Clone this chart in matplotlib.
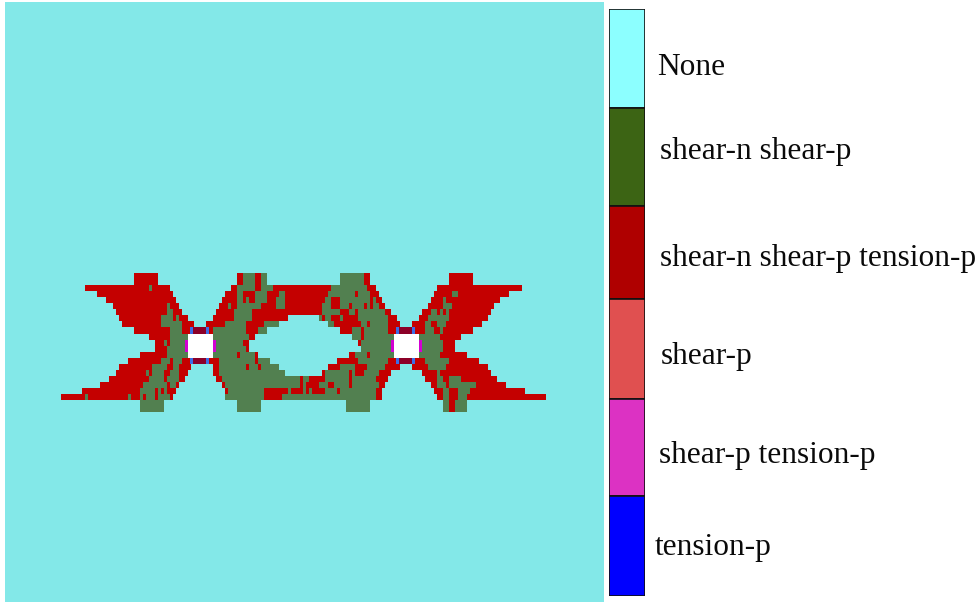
import re
import numpy as np
import matplotlib
matplotlib.use('Agg')
import matplotlib.pyplot as plt
from matplotlib.colors import ListedColormap
from matplotlib.patches import Rectangle

# failure state per mesh row, as runs of half-cell columns (later runs overwrite earlier ones)
# R = shear-n shear-p tension-p, G = shear-n shear-p, W = opening
zone_rows = [
    "R24-32 R58-60 G60-64 R64-66 G66-68 G92-100 R100-102 R128-136",
    "R24-32 R58-60 G60-64 R64-66 G66-68 G92-100 R100-102 R128-136",
    "R8-36 G29-30 R56-58 G58-64 R64-66 G66-70 R70-89 G89-101 R101-104 R124-152",
    "R12-37 R54-58 G58-60 R60-64 G64-68 R68-72 G72-74 R74-88 G88-97 R97-98 G98-102 R102-105 R123-148 G129-131",
    "R15-38 R53-58 G58-60 R60-61 G61-62 R62-64 G64-68 R68-71 G71-74 R74-87 G87-89 R89-92 G92-102 R102-103 G103-104 R104-106 R122-145 G126-127",
    "R17-39 G35-36 R52-55 G55-56 R56-58 G58-66 R66-71 G71-74 R74-86 G86-89 R89-92 G92-95 R95-96 G96-100 R100-101 G101-102 R102-103 G103-105 R105-107 R121-143 G126-129",
    "R18-40 G35-37 R51-57 G57-63 R63-86 G86-92 R92-95 G95-97 R97-98 G98-107 R107-109 R119-142 G122-124 G125-126 G127-128",
    "R19-42 G33-37 G38-39 R50-57 G57-63 R63-75 G85-86 R86-87 G87-89 R89-92 G92-93 R93-98 G98-108 R108-111 R118-141 G121-128",
    "R20-44 G33-40 R48-54 G54-61 R61-67 G67-72 G88-90 R90-99 G99-101 R101-102 G102-108 R108-112 R116-120 G120-122 R122-124 G124-127 R127-139",
    "R24-44 G36-40 R48-50 G50-61 R61-65 G65-68 R92-96 G96-99 R99-100 G100-108 R108-112 R116-120 G120-123 R123-125 G125-126 R126-136",
    "R29-36 G36-42 W42-50 G50-62 R62-64 G96-99 R99-100 G100-110 W110-118 G118-125 R125-132",
    "R31-34 G34-35 R35-36 G36-42 W42-50 G50-60 R60-62 R98-99 G99-110 W110-118 G118-119 G119-126 R126-130",
    "R31-35 G35-42 W42-50 G50-61 R61-62 G99-110 W110-118 G118-119 G119-126 R126-130",
    "R26-35 G35-42 W42-50 G50-58 R58-59 G59-64 R64-65 R95-97 G97-101 R101-102 G102-110 W110-118 G118-125 R125-134",
    "R22-33 G33-36 R36-37 G37-40 R40-44 R48-52 G52-64 R64-65 G65-69 R91-98 G98-108 R108-112 R116-120 G120-128 R128-138",
    "R19-30 G30-35 R35-37 G37-39 R39-43 R50-52 G52-61 R61-62 G62-65 R65-66 G66-72 R88-92 G92-97 R97-101 G101-107 R107-112 R116-121 G121-127 R127-141",
    "R18-28 G28-29 R29-30 G30-34 R34-36 G36-39 R39-42 R50-52 G52-74 R86-87 G87-95 R95-96 G96-97 R97-100 G100-105 R105-109 R119-124 G124-125 R125-142",
    "R16-29 G29-34 R34-35 G35-39 R39-41 R51-53 G53-79 R79-80 G80-82 R82-87 G87-95 R95-96 G96-104 R104-108 R120-124 G124-126 R126-128 G128-132 R132-144",
    "R13-27 G27-35 R35-36 G36-38 R38-39 R53-54 G54-79 R79-80 G80-81 R81-85 G85-88 R88-90 G90-95 R95-96 G96-105 R105-107 R122-124 G124-127 R127-128 G128-137 R137-147",
    "R7-26 G26-31 R31-32 G32-33 R33-34 G34-35 R35-38 R54-55 G55-67 R67-75 G75-76 R76-80 G80-81 R81-82 G82-83 R83-87 G87-91 R91-92 G92-104 R104-106 R123-126 G126-128 R128-131 G131-135 R135-153",
    "R0-8 G8-9 R9-22 G22-23 R23-26 G26-27 R27-28 G28-31 R31-32 G32-36 R36-37 G54-67 R67-73 G73-104 R104-106 R124-126 G126-128 R128-131 G131-134 R134-160",
    "G26-34 G58-66 G94-102 G126-128 R128-130 G130-134",
    "G26-34 G58-66 G94-102 G126-128 R128-130 G130-134",
]

legend_labels = ['None', 'shear-n shear-p', 'shear-n shear-p tension-p',
                 'shear-p', 'shear-p tension-p', 'tension-p']
legend_colors = ['#8CFFFF', '#3C6414', '#AF0000', '#E05050', '#DC32C3', '#0000FF']
legend_edges = [9.3, 107.7, 206, 298.7, 399.3, 496, 596]
label_x = [657.5, 660, 660, 661, 658.5, 655]
label_base = [75, 159, 266, 364, 462.7, 555]

codes = {'.': 0, 'G': 1, 'R': 2, 'W': 3}
grid = np.zeros((len(zone_rows), 160), dtype=int)
for r, row in enumerate(zone_rows):
    for kind, a, b in re.findall(r'([RGW])(\d+)-(\d+)', row):
        grid[r, int(a):int(b)] = codes[kind]

W, H = 980, 605
fig = plt.figure(figsize=(W / 100, H / 100), dpi=100, facecolor='white')

# mesh panel, one unit = half a cell across and one cell down
left, right, top, bottom = 4.5, 604, 2, 602
ax = fig.add_axes([left / W, 1 - bottom / H, (right - left) / W, (bottom - top) / H])
ax.set_facecolor('#83E8E8')
masked = np.ma.masked_equal(grid, 0)
cmap = ListedColormap(['#83E8E8', '#528050', '#C40000', '#FFFFFF'])
ax.pcolormesh(np.arange(161), np.arange(24), masked, cmap=cmap, vmin=-0.5, vmax=3.5)
cw, ch = 3.03, 6.02
ax.set_xlim((left - 61) / cw, (right - 61) / cw)
ax.set_ylim((bottom - 273.3) / ch, (top - 273.3) / ch)
ax.set_xticks([])
ax.set_yticks([])
for sp in ax.spines.values():
    sp.set_visible(False)

# thin elements around the two openings
for off in [0, 68]:
    for y in [9, 14]:
        ax.add_patch(Rectangle((42.7 + off, y), 0.9, 1, color='#3C6EE6', lw=0))
        ax.add_patch(Rectangle((47.8 + off, y), 0.9, 1, color='#3C6EE6', lw=0))
        ax.add_patch(Rectangle((43.6 + off, y), 4.2, 1, color='#8C0028', lw=0))
    ax.add_patch(Rectangle((40.9 + off, 11.1), 1.1, 2, color='#D200D2', lw=0))
    ax.add_patch(Rectangle((50 + off, 11.1), 1.1, 2, color='#D200D2', lw=0))

# legend swatches
leg = fig.add_axes([609 / W, 1 - 596 / H, 36 / W, (596 - 9.3) / H])
heights = np.diff(legend_edges)
leg.bar([0] * 6, heights, bottom=legend_edges[:-1], width=1, color=legend_colors,
        edgecolor='#111111', linewidth=1.2)
leg.set_xlim(-0.5, 0.5)
leg.set_ylim(596, 9.3)
leg.axis('off')

for name, x, y in zip(legend_labels, label_x, label_base):
    fig.text(x / W, 1 - y / H, name, family='Liberation Serif', fontsize=22.6,
             color='#0A0A0A', ha='left', va='baseline')

fig.savefig('out.png', dpi=100)
